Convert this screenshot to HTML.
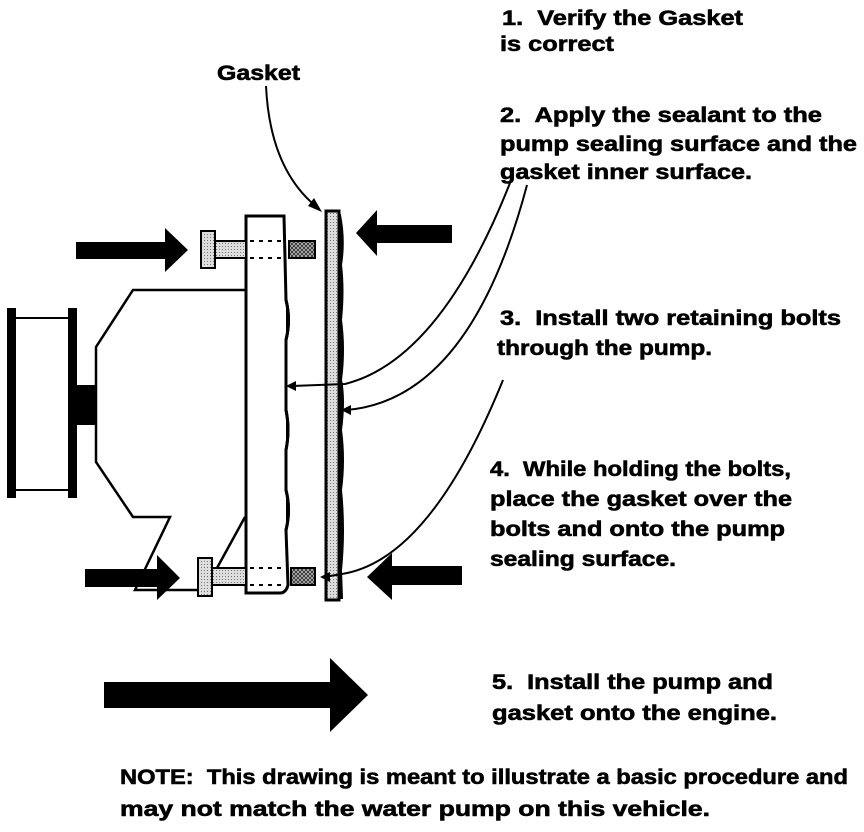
<!DOCTYPE html>
<html><head><style>
html,body{margin:0;padding:0;background:#fff;}
svg{display:block;}
text{font-family:"Liberation Sans",Arial,sans-serif;font-weight:bold;font-size:21px;fill:#000;stroke:#000;stroke-width:0.6;}
</style></head><body>
<svg width="864" height="832" viewBox="0 0 864 832" xmlns="http://www.w3.org/2000/svg">
<defs>
<pattern id="dots" width="3" height="3" patternUnits="userSpaceOnUse"><rect width="3" height="3" fill="#ddd"/><rect width="1" height="1" fill="#777"/></pattern>
<pattern id="hatch" width="4" height="4" patternUnits="userSpaceOnUse"><rect width="4" height="4" fill="#ccc"/><path d="M0 4L4 0M0 0L4 4" stroke="#333" stroke-width="1"/></pattern>
</defs>
<rect x="7" y="308" width="9" height="190" fill="#000"/>
<rect x="68" y="308" width="9" height="190" fill="#000"/>
<line x1="15" y1="318" x2="70" y2="318" stroke="#000" stroke-width="2"/>
<line x1="15" y1="490" x2="70" y2="490" stroke="#000" stroke-width="2"/>
<rect x="68" y="385" width="28" height="40" fill="#000"/>
<polyline points="246,290 133,290 96,347 96,462 133,517 170,517 135,590 200,590" fill="none" stroke="#000" stroke-width="2.5"/>
<line x1="245" y1="517" x2="217" y2="568" stroke="#000" stroke-width="2.5"/>
<path d="M246,216 L284,216 L286,300 Q291,320 286,340 L286,410 Q290,430 286,450 L286,490 Q291,510 286,530 L288,585 Q286,593 280,593 L246,593 Z" fill="#fff" stroke="#000" stroke-width="3"/>
<path d="M286,300 Q291,320 286,340 M286,410 Q290,430 286,450 M286,490 Q291,510 286,530" fill="#000" stroke="#000" stroke-width="3"/>
<rect x="201" y="231" width="14" height="37" fill="url(#dots)" stroke="#000" stroke-width="2"/>
<rect x="215" y="241" width="31" height="17" fill="url(#dots)" stroke="#000" stroke-width="2"/>
<line x1="250" y1="241" x2="284" y2="241" stroke="#000" stroke-width="2" stroke-dasharray="4,5"/>
<line x1="250" y1="258" x2="284" y2="258" stroke="#000" stroke-width="2" stroke-dasharray="4,5"/>
<rect x="289" y="241" width="26" height="17" fill="url(#hatch)" stroke="#000" stroke-width="2"/>
<rect x="198" y="558" width="14" height="38" fill="url(#dots)" stroke="#000" stroke-width="2"/>
<rect x="212" y="568" width="34" height="17" fill="url(#dots)" stroke="#000" stroke-width="2"/>
<line x1="250" y1="568" x2="284" y2="568" stroke="#000" stroke-width="2" stroke-dasharray="4,5"/>
<line x1="250" y1="585" x2="284" y2="585" stroke="#000" stroke-width="2" stroke-dasharray="4,5"/>
<rect x="291" y="568" width="24" height="17" fill="url(#hatch)" stroke="#000" stroke-width="2"/>
<path d="M340,215 Q345,240 341,265 Q344,290 341,320 Q345,350 341,380 Q345,400 341,430 Q345,460 341,490 Q345,530 341,570 L342,598 L338,598 L338,215Z" fill="#000" stroke="#000" stroke-width="2"/>
<rect x="326" y="211" width="13" height="389" fill="url(#dots)" stroke="#000" stroke-width="3"/>
<polygon points="76,242 165,242 165,228 188,250 165,272 165,259 76,259" fill="#000"/>
<polygon points="85,569 157,569 157,555 180,578 157,600 157,587 85,587" fill="#000"/>
<polygon points="452,225 377,225 377,210 356,233 377,256 377,243 452,243" fill="#000"/>
<polygon points="462,566 392,566 392,553 367,577 392,600 392,585 462,585" fill="#000"/>
<polygon points="104,682 330,682 330,658 368,695 330,732 330,708 104,708" fill="#000"/>
<g fill="none" stroke="#000" stroke-width="2">
<path d="M266,86 Q270,170 318,208"/>
<path d="M510,183 Q440,360 345,384 L292,386"/>
<path d="M527,185 Q470,400 346,410"/>
<path d="M503,380 Q430,560 342,574 L324,577"/>
</g>
<g fill="#000">
<polygon points="322,212 308,206 314,198"/>
<polygon points="286,386 296,381 296,391"/>
<polygon points="341,410 351,405 351,415"/>
<polygon points="320,577 330,572 330,582"/>
</g>
<g>
<text x="217" y="80" textLength="83" lengthAdjust="spacingAndGlyphs">Gasket</text>
<text x="502" y="25" textLength="241" lengthAdjust="spacingAndGlyphs" xml:space="preserve">1.  Verify the Gasket</text>
<text x="500" y="51" textLength="114" lengthAdjust="spacingAndGlyphs">is correct</text>
<text x="500" y="122" textLength="322" lengthAdjust="spacingAndGlyphs" xml:space="preserve">2.  Apply the sealant to the</text>
<text x="500" y="151" textLength="357" lengthAdjust="spacingAndGlyphs">pump sealing surface and the</text>
<text x="500" y="179" textLength="252" lengthAdjust="spacingAndGlyphs">gasket inner surface.</text>
<text x="500" y="325" textLength="341" lengthAdjust="spacingAndGlyphs" xml:space="preserve">3.  Install two retaining bolts</text>
<text x="497" y="355" textLength="215" lengthAdjust="spacingAndGlyphs">through the pump.</text>
<text x="490" y="476" textLength="301" lengthAdjust="spacingAndGlyphs" xml:space="preserve">4.  While holding the bolts,</text>
<text x="490" y="506" textLength="302" lengthAdjust="spacingAndGlyphs">place the gasket over the</text>
<text x="490" y="536" textLength="295" lengthAdjust="spacingAndGlyphs">bolts and onto the pump</text>
<text x="490" y="566" textLength="186" lengthAdjust="spacingAndGlyphs">sealing surface.</text>
<text x="492" y="689" textLength="281" lengthAdjust="spacingAndGlyphs" xml:space="preserve">5.  Install the pump and</text>
<text x="492" y="720" textLength="285" lengthAdjust="spacingAndGlyphs">gasket onto the engine.</text>
<text x="120" y="784" textLength="728" lengthAdjust="spacingAndGlyphs" xml:space="preserve">NOTE:  This drawing is meant to illustrate a basic procedure and</text>
<text x="120" y="816" textLength="590" lengthAdjust="spacingAndGlyphs">may not match the water pump on this vehicle.</text>
</g>
</svg>
</body></html>
